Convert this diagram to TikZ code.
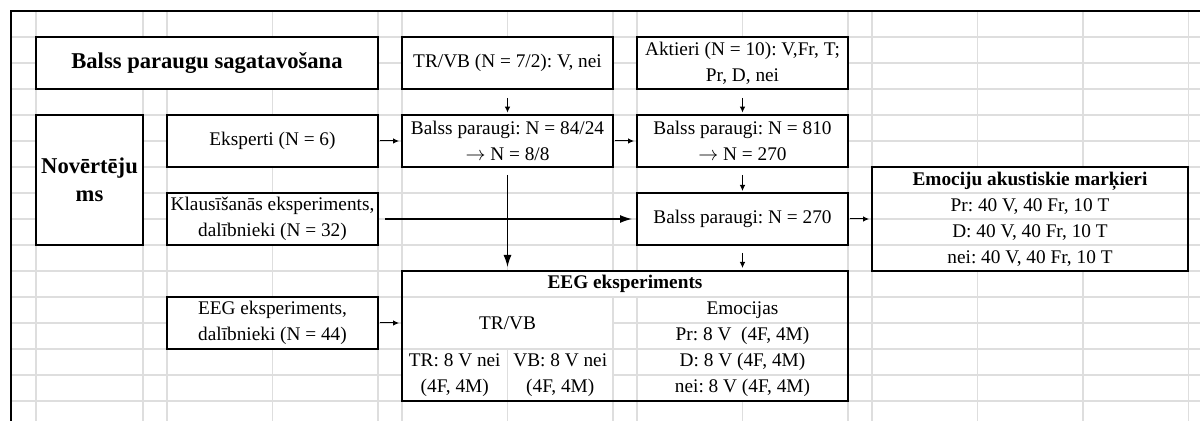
\documentclass[tikz,border=0pt]{standalone}
\usepackage{fontspec}
\setmainfont{Liberation Serif}
\frenchspacing
\usepackage{xcolor}
\definecolor{gridgray}{RGB}{222, 222, 222}
\usepackage{tikz}
\usetikzlibrary{arrows.meta,positioning,calc}

\begin{document}
\begin{tikzpicture}[
  x=0.5pt, y=-0.5pt,
  font=\fontsize{9.65pt}{13pt}\selectfont,
  box/.style={draw=black, line width=0.9pt, fill=white, inner sep=0pt, outer sep=0pt, align=center},
  wide/.style={minimum width=105.5pt, minimum height=26pt},
  cell/.style={inner sep=0pt, outer sep=0pt, align=center},
  head/.style={font=\fontsize{11.3pt}{14pt}\selectfont\bfseries},
  gridline/.style={draw=gridgray, line width=0.65pt},
  tick/.style={-{Latex[length=3pt,width=2.8pt]}, line width=0.5pt},
  flow/.style={-{Latex[length=6pt,width=4pt]}, line width=0.65pt}
]
\useasboundingbox (0,0) rectangle (1200,421);
\foreach \gx in {36,143,167,272.5,378,402,507.5,613,637,742.5,848,872,977.5,1083,1188.5}
  \draw[gridline] (\gx,11.5) -- (\gx,421);
\foreach \k in {1,...,15}
  \draw[gridline] (11,11+26*\k) -- (1200,11+26*\k);
\draw[line width=1pt] (11,421) -- (11,11.5) -- (1200,11.5);
\fill[white] (403,90) rectangle (612,114);
\fill[white] (638,90) rectangle (847,114);
\fill[white] (403,168) rectangle (612,192);
\fill[white] (638,168) rectangle (847,192);
\fill[white] (638,246) rectangle (847,270);

\node[box, head, minimum width=171pt, minimum height=26pt] (prep) at (207,63) {Balss paraugu sagatavošana};
\node[box, wide, right=12pt of prep] (trvb) {TR/VB (N = 7/2): V, nei};
\node[box, wide, right=12pt of trvb] (aktieri) {Aktieri (N = 10): V,Fr, T;\\Pr, D, nei};

\node[box, head, minimum width=53.5pt, minimum height=65pt, below=13pt of prep.south west, anchor=north west] (vert) {Novērtēju\\ms};
\node[box, wide, below=13pt of prep.south east, anchor=north east] (eksp) {Eksperti (N = 6)};
\node[box, wide, below=13pt of trvb] (bp1) {Balss paraugi: N = 84/24\\$\rightarrow$ N = 8/8};
\node[box, wide, below=13pt of aktieri] (bp2) {Balss paraugi: N = 810\\$\rightarrow$ N = 270};
\node[box, wide, below=13pt of eksp] (klaus) {Klausīšanās eksperiments,\\dalībnieki (N = 32)};
\node[box, wide, below=13pt of bp2] (bp3) {Balss paraugi: N = 270};
\node[box, wide, below=26pt of klaus] (eegp) {EEG eksperiments,\\dalībnieki (N = 44)};
\node[box, minimum width=158pt, minimum height=52pt, right=12pt of bp3] (marker) {\textbf{Emociju akustiskie marķieri}\\Pr: 40 V, 40 Fr, 10 T\\D: 40 V, 40 Fr, 10 T\\nei: 40 V, 40 Fr, 10 T};

\node[box, minimum width=223pt, minimum height=65pt, below=13pt of bp3.south east, anchor=north east] (eeg) {};
\node[cell, minimum height=13pt, anchor=north] (eegtitle) at (eeg.north) {\textbf{EEG eksperiments}};
\node[cell] (trvbcell) at ($(eeg.north west)+(105.5,52)$) {TR/VB};
\node[cell] (trcell) at ($(eeg.north west)+(52.75,104)$) {TR: 8 V nei\\(4F, 4M)};
\node[cell] (vbcell) at ($(eeg.north west)+(158.25,104)$) {VB: 8 V nei\\(4F, 4M)};
\node[cell] (emocell) at ($(eeg.north west)+(340.5,78)$) {Emocijas\\Pr: 8 V\ \ (4F, 4M)\\D: 8 V (4F, 4M)\\nei: 8 V (4F, 4M)};

\draw[gridline] (403,297) -- (847,297);
\draw[gridline] (403,349) -- (847,349);
\draw[gridline] (613,323) -- (847,323);
\draw[gridline] (613,375) -- (847,375);
\draw[gridline] (507.5,349) -- (507.5,400);
\draw[gridline] (613,297) -- (613,400);
\draw[gridline] (637,297) -- (637,400);
\foreach \gy in {193,219,245}
  \draw[gridline] (873,\gy) -- (1187,\gy);

\draw[tick, shorten <=4.5pt, shorten >=1.2pt] (trvb) -- (bp1);
\draw[tick, shorten <=4.5pt, shorten >=1.2pt] (aktieri) -- (bp2);
\draw[tick, shorten <=4pt, shorten >=1pt] (bp2) -- (bp3);
\draw[tick, shorten <=4pt, shorten >=1.5pt] (bp3) -- (bp3 |- eeg.north);
\draw[tick, shorten <=1pt, shorten >=1.5pt] (eksp) -- (bp1);
\draw[tick, shorten <=1pt, shorten >=1.5pt] (bp1) -- (bp2);
\draw[tick, shorten <=1pt, shorten >=1.5pt] (bp3) -- (marker);
\draw[tick, shorten <=1pt, shorten >=1.5pt] (eegp) -- (eegp -| eeg.west);
\draw[flow, shorten <=3.5pt, shorten >=2.5pt] (klaus) -- (bp3);
\draw[flow, shorten <=4pt, shorten >=2pt] (bp1) -- (bp1 |- eeg.north);
\end{tikzpicture}
\end{document}
